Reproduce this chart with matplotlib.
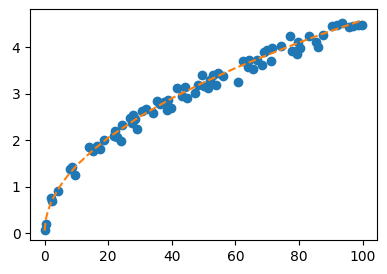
import matplotlib
matplotlib.use('Agg')
import matplotlib.pyplot as plt

# scatter samples
x_pts = [0.0, 0.4, 2.0, 2.3, 4.1, 7.9, 8.6, 9.5, 14.1, 15.2, 16.6, 17.6, 18.7,
         21.7, 22.2, 22.9, 24.0, 24.5, 26.9, 27.7, 27.4, 29.0, 28.5, 30.6, 31.9,
         34.0, 35.3, 36.3, 37.7, 38.9, 38.4, 39.7, 41.8, 43.1, 44.2, 44.7, 47.3,
         48.4, 49.6, 50.2, 51.5, 52.0, 53.1, 53.9, 54.6, 56.0, 60.9, 62.5, 64.1,
         64.4, 65.6, 66.7, 68.3, 69.0, 69.8, 71.1, 71.4, 74.2, 77.2, 77.7, 79.0,
         79.6, 79.3, 80.3, 83.1, 85.5, 85.9, 87.4, 90.3, 91.8, 93.4, 95.8, 97.1,
         98.6, 99.7]
y_pts = [0.07, 0.20, 0.76, 0.68, 0.90, 1.38, 1.43, 1.25, 1.86, 1.76, 1.88, 1.80,
         2.01, 2.09, 2.19, 2.06, 1.99, 2.32, 2.47, 2.54, 2.37, 2.24, 2.45, 2.62,
         2.67, 2.58, 2.85, 2.78, 2.81, 2.87, 2.65, 2.69, 3.12, 2.94, 3.14, 2.90,
         3.01, 3.19, 3.40, 3.17, 3.12, 3.30, 3.40, 3.19, 3.44, 3.38, 3.26, 3.71,
         3.58, 3.73, 3.53, 3.73, 3.62, 3.89, 3.94, 3.71, 3.98, 4.03, 4.24, 3.91,
         3.91, 4.12, 3.86, 3.98, 4.24, 4.12, 4.01, 4.27, 4.46, 4.48, 4.52, 4.44,
         4.46, 4.48, 4.48]

# fitted curve
x_fit = [0, 0.5, 1, 2, 3, 5, 7, 10, 15, 20, 30, 40, 50, 60, 70, 80, 90, 100]
y_fit = [0.05, 0.32, 0.46, 0.65, 0.79, 1.02, 1.21, 1.45, 1.77, 2.05, 2.51, 2.90,
         3.24, 3.55, 3.83, 4.10, 4.35, 4.58]

fig = plt.figure(figsize=(3.87, 2.74), dpi=100)
ax = fig.add_axes([0.078, 0.124, 0.896, 0.843])
ax.scatter(x_pts, y_pts, color='C0')
ax.plot(x_fit, y_fit, '--', color='C1')
ax.set_xlim(-4.5, 104.5)
ax.set_ylim(-0.15, 4.82)
ax.set_xticks([0, 20, 40, 60, 80, 100])
ax.set_yticks([0, 1, 2, 3, 4])

plt.savefig("out.png", dpi=100)
